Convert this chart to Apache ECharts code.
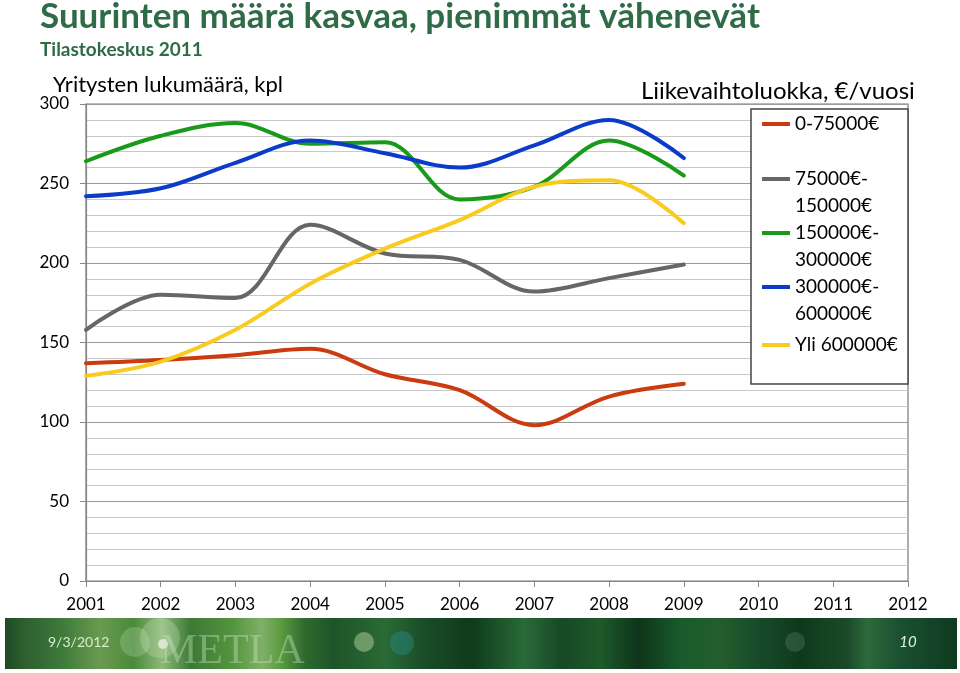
<!DOCTYPE html>
<html>
<head>
<meta charset="utf-8">
<script src="https://cdn.jsdelivr.net/npm/echarts@6/dist/echarts.min.js"></script>
<style>
html,body{margin:0;padding:0;background:#fff;}
#chart{width:960px;height:673px;}
</style>
</head>
<body>
<div id="chart"></div>
<script>
const years = ['2001','2002','2003','2004','2005','2006','2007','2008','2009','2010','2011','2012'];
const seriesNames = ['0-75000€','75000€-150000€','150000€-300000€','300000€-600000€','Yli 600000€'];
const legendLabels = ['0-75000€','\n75000€-\n150000€','\n150000€-\n300000€','\n300000€-\n600000€','Yli 600000€'];
const s0_75 = [137, 139, 142, 146, 130, 120, 98, 116, 124];
const s75_150 = [158, 180, 178, 224, 206, 202, 182, 190.5, 199];
const s150_300 = [264, 280, 288, 275, 276, 240, 248, 277, 255];
const s300_600 = [242, 247, 263, 277, 269, 260, 274, 290, 266];
const sYli600 = [129, 138, 158, 187, 209, 227, 248, 252, 225];
const yTicks = [0, 50, 100, 150, 200, 250, 300];
const colors = ['#CC3A10', '#666666', '#1A9A1A', '#0B3CC8', '#F8CB1E'];
const allData = [s0_75, s75_150, s150_300, s300_600, sYli600];
const legendIconY = [124, 179, 233, 287, 345];

const FONT = 'Lato, "Open Sans", sans-serif';
const chart = echarts.init(document.getElementById('chart'), null, {renderer: 'canvas'});

const series = allData.map((d, i) => ({
  name: seriesNames[i],
  type: 'line',
  data: d,
  smooth: 0.35,
  symbol: 'none',
  lineStyle: {width: 4, color: colors[i], cap: 'round'},
  itemStyle: {color: colors[i]},
  z: 3
}));

const legends = seriesNames.map((n, i) => {
  const multi = legendLabels[i].indexOf('\n') >= 0;
  return {
    data: [n],
    orient: 'vertical',
    left: 762,
    top: legendIconY[i] - (multi ? 40.5 : 13.5),
    padding: 0,
    z: 20,
    icon: 'rect',
    itemWidth: 28,
    itemHeight: 4,
    selectedMode: false,
    formatter: () => legendLabels[i],
    textStyle: {fontFamily: FONT, fontSize: 19, color: '#000', lineHeight: 27}
  };
});

const option = {
  backgroundColor: '#fff',
  animation: false,
  title: [
    {text: 'Suurinten määrä kasvaa, pienimmät vähenevät', left: 40, top: -1, padding: 0,
     textStyle: {fontFamily: FONT, fontWeight: 'bold', fontSize: 35, color: '#2E6B46'}},
    {text: 'Tilastokeskus 2011', left: 40, top: 40, padding: 0,
     textStyle: {fontFamily: FONT, fontWeight: 'bold', fontSize: 19, color: '#2E6B46'}},
    {text: 'Yritysten lukumäärä, kpl', left: 53, top: 74, padding: 0,
     textStyle: {fontFamily: FONT, fontWeight: 'normal', fontSize: 22, color: '#000'}},
    {text: 'Liikevaihtoluokka, €/vuosi', left: 641, top: 79, padding: 0,
     textStyle: {fontFamily: FONT, fontWeight: 'normal', fontSize: 24, color: '#000'}}
  ],
  legend: legends,
  grid: {left: 86, right: 52, top: 104, bottom: 92, show: true, borderColor: '#777', borderWidth: 1.2, backgroundColor: 'transparent', containLabel: false},
  xAxis: {
    type: 'category',
    data: years,
    boundaryGap: false,
    axisLine: {lineStyle: {color: '#888', width: 1.2}},
    axisTick: {show: true, length: 6, lineStyle: {color: '#888'}},
    axisLabel: {fontFamily: FONT, fontSize: 17, color: '#000', margin: 15, interval: 0},
    splitLine: {show: false}
  },
  yAxis: {
    type: 'value',
    min: yTicks[0],
    max: yTicks[yTicks.length - 1],
    interval: 50,
    axisLine: {show: true, lineStyle: {color: '#888', width: 1.2}},
    axisTick: {show: true, length: 6, lineStyle: {color: '#888'}},
    axisLabel: {fontFamily: FONT, fontSize: 17, color: '#000', margin: 17},
    splitLine: {show: true, lineStyle: {color: '#9a9a9a', width: 1.2}},
    minorTick: {show: false, splitNumber: 5},
    minorSplitLine: {show: true, lineStyle: {color: '#c8c8c8', width: 1.2}}
  },
  series: series,
  graphic: [
    {type: 'rect', shape: {x: 751, y: 109, width: 157, height: 275},
     style: {fill: '#fff', stroke: '#444', lineWidth: 1.5}, z: 2, silent: true},
    {type: 'rect', shape: {x: 5, y: 618, width: 952, height: 51},
     style: {fill: new echarts.graphic.LinearGradient(0, 0, 1, 0, [
       {offset: 0.0, color: '#1e4a25'},
       {offset: 0.02, color: '#2d5f30'},
       {offset: 0.06, color: '#3e7a3a'},
       {offset: 0.10, color: '#6a9a50'},
       {offset: 0.135, color: '#4a8a3a'},
       {offset: 0.165, color: '#8eb878'},
       {offset: 0.195, color: '#3c7a35'},
       {offset: 0.24, color: '#55953f'},
       {offset: 0.27, color: '#80b068'},
       {offset: 0.29, color: '#5a9a40'},
       {offset: 0.315, color: '#2e6a2e'},
       {offset: 0.345, color: '#1e5528'},
       {offset: 0.40, color: '#2a6a35'},
       {offset: 0.44, color: '#1a4d28'},
       {offset: 0.49, color: '#0f3a1c'},
       {offset: 0.545, color: '#2a6a38'},
       {offset: 0.585, color: '#184826'},
       {offset: 0.625, color: '#1e5a2a'},
       {offset: 0.665, color: '#0e351b'},
       {offset: 0.71, color: '#1a5a2c'},
       {offset: 0.75, color: '#245e2c'},
       {offset: 0.795, color: '#16492a'},
       {offset: 0.835, color: '#0e3a1c'},
       {offset: 0.885, color: '#1a4a2a'},
       {offset: 0.905, color: '#2e6a3a'},
       {offset: 0.94, color: '#1a5030'},
       {offset: 1.0, color: '#0f3a20'}
     ])}, z: 1, silent: true},
    {type: 'circle', shape: {cx: 135, cy: 642, r: 15}, style: {fill: 'rgba(200,230,190,0.25)'}, z: 2, silent: true},
    {type: 'circle', shape: {cx: 160, cy: 638, r: 20}, style: {fill: 'rgba(210,235,200,0.25)'}, z: 2, silent: true},
    {type: 'circle', shape: {cx: 163, cy: 644, r: 5}, style: {fill: 'rgba(255,255,255,0.6)'}, z: 2, silent: true},
    {type: 'circle', shape: {cx: 364, cy: 642, r: 10}, style: {fill: 'rgba(170,200,150,0.55)'}, z: 2, silent: true},
    {type: 'circle', shape: {cx: 402, cy: 643, r: 12}, style: {fill: 'rgba(40,130,120,0.55)'}, z: 2, silent: true},
    {type: 'circle', shape: {cx: 795, cy: 642, r: 10}, style: {fill: 'rgba(150,180,150,0.2)'}, z: 2, silent: true},
    {type: 'text', x: 48, y: 642, style: {text: '9/3/2012', fill: '#d8ecd0', font: '14px ' + FONT, verticalAlign: 'middle'}, z: 3, silent: true},
    {type: 'text', x: 160, y: 673, style: {text: 'METLA', fill: 'rgba(200,230,200,0.4)', font: '42px "Liberation Serif", "DejaVu Serif", serif', verticalAlign: 'bottom'}, z: 3, silent: true},
    {type: 'text', x: 908, y: 642, style: {text: '10', fill: '#e4f2e0', font: 'italic 15px ' + FONT, verticalAlign: 'middle', align: 'center'}, z: 3, silent: true}
  ]
};
chart.setOption(option);
</script>
</body>
</html>
